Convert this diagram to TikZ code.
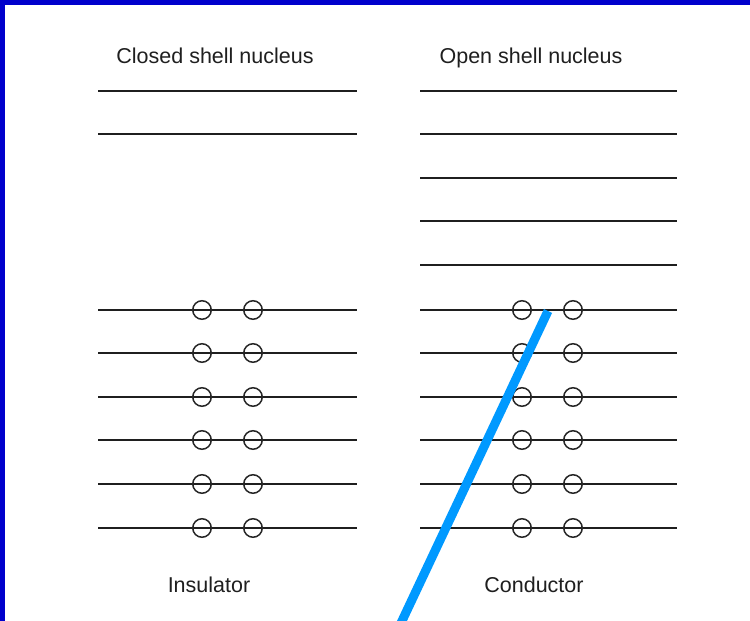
\documentclass[tikz,border=0pt]{standalone}
\usepackage{fontspec}
\setmainfont{Liberation Sans}
\definecolor{frameblue}{RGB}{0,0,204}
\definecolor{barblue}{RGB}{0,153,255}
\begin{document}
\begin{tikzpicture}[x=1pt,y=-1pt,
  level/.style={line width=2pt,draw=black!88},
  hole/.style={circle,draw=black!85,line width=1.5pt,minimum size=18.5pt,inner sep=0pt},
  label/.style={font=\fontsize{21.5}{24}\selectfont,text=black!88,inner sep=0pt,anchor=base},
  bar/.style={line width=9pt,draw=barblue}]
\useasboundingbox (0,0) rectangle (750,621);
\clip (0,0) rectangle (750,621);
\fill[white] (0,0) rectangle (750,621);
\fill[frameblue] (0,0) rectangle (750,5);
\fill[frameblue] (0,0) rectangle (5,621);
% titles
\node[label] (tclosed) at (215,63.5) {Closed shell nucleus};
\node[label] (topen) at (531,63.5) {Open shell nucleus};
\node[label] (tins) at (209,592) {Insulator};
\node[label] (tcond) at (534,592) {Conductor};
% empty levels
\foreach \y in {91,134} \draw[level] (98,\y) -- (357,\y);
\foreach \y in {91,134,178,221,265} \draw[level] (420,\y) -- (677,\y);
% filled levels
\foreach \y [count=\i] in {310,353,397,440,484,528} {
  \draw[level] (98,\y) -- (357,\y);
  \draw[level] (420,\y) -- (677,\y);
  \node[hole] (la\i) at (202,\y) {};
  \node[hole] (lb\i) at (253,\y) {};
  \node[hole] (ra\i) at (522,\y) {};
  \node[hole] (rb\i) at (573,\y) {};
}
% blue stroke
\coordinate (btop) at (548,311);
\coordinate (bbot) at (393,640);
\draw[bar] (btop) -- (bbot);
\end{tikzpicture}
\end{document}
